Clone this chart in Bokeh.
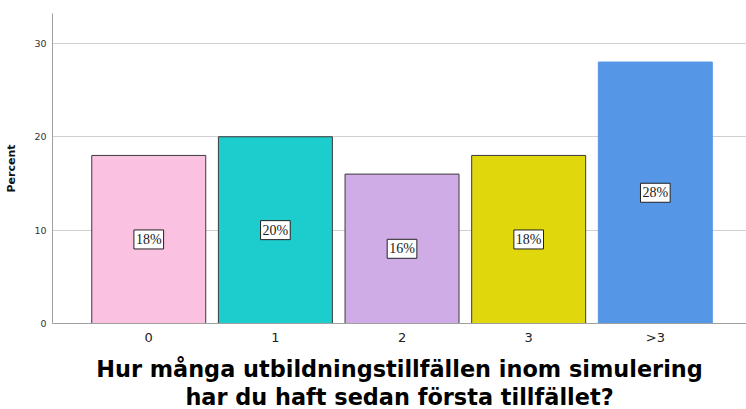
from bokeh.plotting import figure
from bokeh.models import ColumnDataSource, Range1d, FixedTicker, Label, Title
from bokeh.embed import file_html
from bokeh.resources import INLINE

# Share of respondents per number of training sessions
categories = ["0", "1", "2", "3", ">3"]
percent = [18, 20, 16, 18, 28]
fill_colors = ["#FBC1E0", "#1DCDCD", "#CFACE6", "#E1D70D", "#5596E6"]
edge_colors = ["#3a3a3a", "#3a3a3a", "#3a3a3a", "#3a3a3a", "#5596E6"]
y_ticks = [0, 10, 20, 30]

positions = list(range(len(categories)))
source = ColumnDataSource(dict(
    x=positions,
    top=percent,
    fill=fill_colors,
    edge=edge_colors,
))

p = figure(
    width=746, height=409,
    x_range=Range1d(-0.76, 4.72), y_range=Range1d(0, 33.2),
    output_backend="svg", toolbar_location=None,
    min_border_left=52, min_border_right=0, min_border_top=13, min_border_bottom=86,
)
p.outline_line_color = None
p.background_fill_color = "white"
p.border_fill_color = "white"

p.vbar(x="x", top="top", width=0.9, source=source,
       fill_color="fill", line_color="edge", line_width=1)

# Boxed value labels at half bar height
for xpos, v in zip(positions, percent):
    p.add_layout(Label(x=xpos, y=v / 2, text=f"{v}%",
                       text_align="center", text_baseline="middle",
                       text_font="Liberation Serif", text_font_size="14px",
                       text_color="#222222",
                       background_fill_color="white",
                       border_line_color="#222222", border_line_width=1,
                       padding=2))

# Axes
p.xgrid.grid_line_color = None
p.ygrid.grid_line_color = "#d0d0d0"
p.ygrid.ticker = FixedTicker(ticks=y_ticks)

p.xaxis.ticker = FixedTicker(ticks=positions)
p.xaxis.major_label_overrides = {i: c for i, c in enumerate(categories)}
p.xaxis.major_label_text_font = "DejaVu Sans"
p.xaxis.major_label_text_font_size = "13px"
p.xaxis.major_label_text_color = "#222222"
p.xaxis.major_tick_line_color = None
p.xaxis.major_tick_out = 0
p.xaxis.major_tick_in = 0
p.xaxis.minor_tick_line_color = None
p.xaxis.minor_tick_out = 0
p.xaxis.axis_line_color = "#a0a0a0"
p.xaxis.major_label_standoff = 6
# blank axis label keeps a little room between tick labels and the caption
p.xaxis.axis_label = " "
p.xaxis.axis_label_standoff = 0
p.xaxis.axis_label_text_font_size = "2.5px"

p.yaxis.ticker = FixedTicker(ticks=y_ticks)
p.yaxis.major_label_text_font = "DejaVu Sans"
p.yaxis.major_label_text_font_size = "9.5px"
p.yaxis.major_label_text_color = "#333333"
p.yaxis.major_tick_line_color = None
p.yaxis.major_tick_out = 0
p.yaxis.major_tick_in = 0
p.yaxis.minor_tick_line_color = None
p.yaxis.minor_tick_out = 0
p.yaxis.axis_line_color = "#a0a0a0"
p.yaxis.major_label_standoff = 6
p.yaxis.axis_label = "Percent"
p.yaxis.axis_label_text_font = "DejaVu Sans"
p.yaxis.axis_label_text_font_style = "bold"
p.yaxis.axis_label_text_font_size = "11px"
p.yaxis.axis_label_text_color = "#111111"
p.yaxis.axis_label_standoff = 13

# Two-line question as the bottom caption
for line in ["Hur många utbildningstillfällen inom simulering",
             "har du haft sedan första tillfället?"]:
    t = Title(text=line, align="center", text_font="DejaVu Sans",
              text_font_style="bold", text_font_size="22.4px",
              text_color="#000000", standoff=0)
    p.add_layout(t, "below")

open("out.html", "w").write(file_html(p, INLINE))
